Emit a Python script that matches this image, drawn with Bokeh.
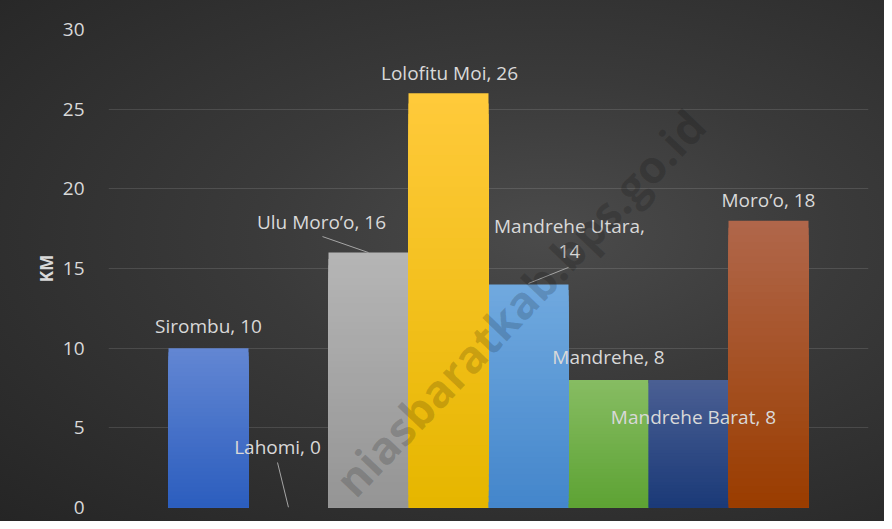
import numpy as np
from bokeh.plotting import figure
from bokeh.models import ColumnDataSource, FixedTicker, Range1d, Label
from bokeh.core.properties import value
from bokeh.embed import file_html
from bokeh.resources import INLINE

# ---------------- data ----------------
categories = ["Sirombu", "Lahomi", "Ulu Moro’o", "Lolofitu Moi",
              "Mandrehe Utara", "Mandrehe", "Mandrehe Barat", "Moro’o"]
km = [10, 0, 16, 26, 14, 8, 8, 18]
y_ticks = [0, 5, 10, 15, 20, 25, 30]
y_label = "KM"
watermark = "niasbaratkab.bps.go.id"

# ---------------- styles ----------------
top_colors = ["#6286d3", "#3b6fb0", "#b5b5b5", "#ffca3a", "#70a9df", "#86bc62", "#4a5f93", "#b0664a"]
bottom_colors = ["#2c5ebe", "#255e91", "#959595", "#e6b600", "#4486cb", "#5ea334", "#1b3a78", "#9a3d00"]
label_sep = [", "] * 8
label_sep[4] = ",\n"
label_dx = [0, -11, -47, 1, 41, 0, 5, 0]      # px, relative to bar centre
label_dy = [-22, -61, -31, -20, -46, -23, 37, -21]  # px, relative to bar top (down positive)
leader_start = {1: (-11, -45), 2: (-46, -16), 4: (40, -17)}
leader_end = {1: (0, 0), 2: (0, 0), 4: (0, -1)}

FONT = "Open Sans"
TXT = "#d9d9d9"
FRAME_W, FRAME_H = 760, 478
X0, X1 = -1.25, 8.25
Y0, Y1 = 0, 30
PX_X = FRAME_W / (X1 - X0)
PX_Y = FRAME_H / (Y1 - Y0)

p = figure(width=884, height=521, output_backend="svg", toolbar_location=None,
           x_range=Range1d(X0, X1), y_range=Range1d(Y0, Y1),
           min_border_left=108, min_border_right=16, min_border_top=29, min_border_bottom=14)
p.styles = {"background": "radial-gradient(ellipse farthest-corner at 62% 45%, #4b4b4b 0%, #3a3a3a 38%, #252525 100%)"}
p.border_fill_alpha = 0
p.background_fill_alpha = 0
p.outline_line_color = None

p.xaxis.visible = False
p.xgrid.visible = False
p.ygrid.ticker = FixedTicker(ticks=y_ticks)
p.ygrid.grid_line_color = "white"
p.ygrid.grid_line_alpha = 0.12
p.ygrid.grid_line_width = 1

ax = p.yaxis[0]
ax.ticker = FixedTicker(ticks=y_ticks)
ax.axis_line_color = None
ax.major_tick_line_color = None
ax.minor_tick_line_color = None
ax.major_label_text_color = TXT
ax.major_label_text_font = FONT
ax.major_label_text_font_size = "19px"
ax.major_label_standoff = 18
ax.axis_label = y_label
ax.axis_label_text_color = TXT
ax.axis_label_text_font = FONT
ax.axis_label_text_font_style = "bold"
ax.axis_label_text_font_size = "17px"
ax.axis_label_standoff = 2

# ---------------- bars with vertical gradient ----------------
def hex2rgb(h):
    h = h.lstrip("#")
    return np.array([int(h[i:i + 2], 16) for i in (0, 2, 4)], dtype=float)

def mix(c1, c2, t):
    c = hex2rgb(c1) * (1 - t) + hex2rgb(c2) * t
    return "#%02x%02x%02x" % tuple(int(round(v)) for v in c)

N = 40
xs, tops, cols = [], [], []
for k in range(N):
    frac = (N - k) / N
    t = k / (N - 1)
    for i, v in enumerate(km):
        xs.append(i)
        tops.append(v * frac)
        cols.append(mix(top_colors[i], bottom_colors[i], t))
bars = ColumnDataSource(dict(x=xs, top=tops, color=cols))
p.vbar(x="x", top="top", bottom=0, width=1.0, fill_color="color", line_color=None, source=bars)

# ---------------- leader lines ----------------
lx0, ly0, lx1, ly1 = [], [], [], []
for i, (dx, dy) in leader_start.items():
    ex, ey = leader_end[i]
    lx0.append(i + dx / PX_X); ly0.append(km[i] - dy / PX_Y)
    lx1.append(i + ex / PX_X); ly1.append(km[i] - ey / PX_Y)
p.segment(x0=lx0, y0=ly0, x1=lx1, y1=ly1, line_color="#a6a6a6", line_width=1)

# ---------------- data labels ----------------
labels = ColumnDataSource(dict(
    x=list(range(len(km))), y=km,
    text=[f"{c}{s}{v}" for c, s, v in zip(categories, label_sep, km)],
    dx=label_dx, dy=label_dy))
p.text(x="x", y="y", text="text", x_offset="dx", y_offset="dy", source=labels,
       text_align="center", text_baseline="middle", text_font=value(FONT),
       text_font_size="19px", text_color=TXT, text_line_height=0.97)

# ---------------- watermark ----------------
wm = Label(x=3.89, y=12.87, text=watermark, angle=0.81, text_align="center",
           text_baseline="middle", text_font=FONT, text_font_style="bold",
           text_font_size="45px", text_color="black", text_alpha=0.16)
p.add_layout(wm)

open("out.html", "w").write(file_html(p, INLINE))
